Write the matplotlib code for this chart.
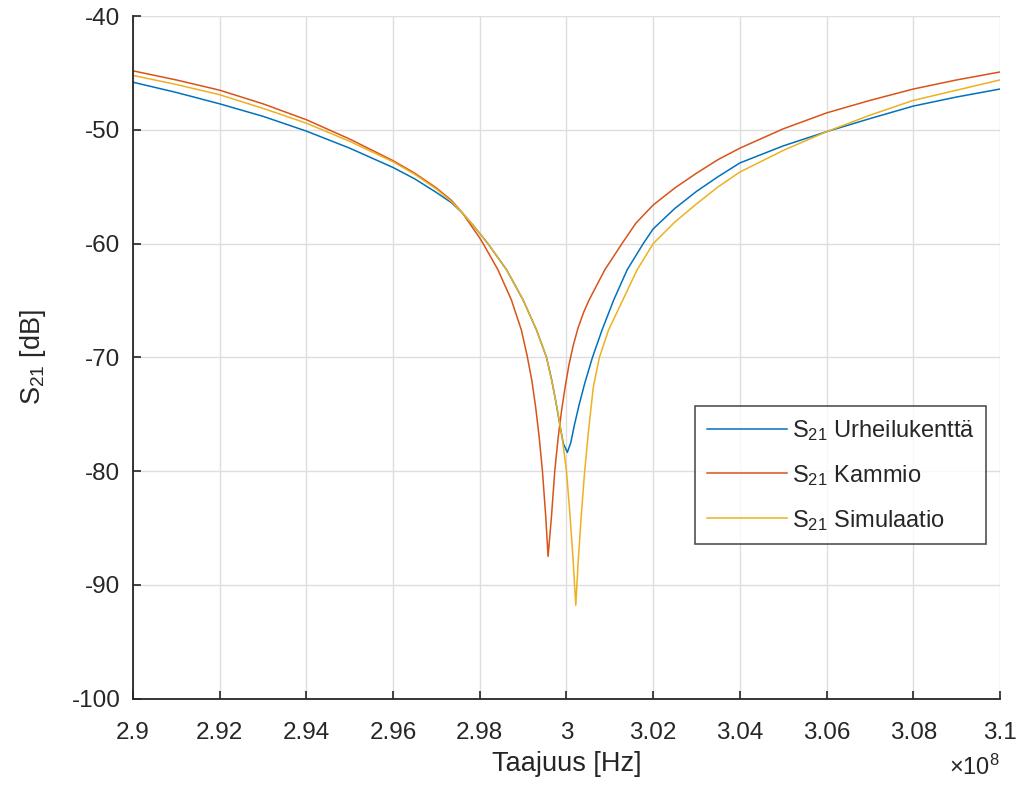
import numpy as np
import matplotlib
matplotlib.use("Agg")
import matplotlib.pyplot as plt
from matplotlib.ticker import FuncFormatter

plt.rcParams['font.family'] = ['Liberation Sans', 'DejaVu Sans']
plt.rcParams['mathtext.default'] = 'regular'
plt.rcParams['axes.unicode_minus'] = False

# Measured transmission S21 on the sports field (frequency in units of 1e8 Hz, level in dB)
f_urheilu = [2.900, 2.910, 2.920, 2.930, 2.940, 2.950, 2.960, 2.965, 2.970, 2.9735,
             2.976, 2.9785, 2.9819, 2.9862, 2.9900, 2.9931, 2.9954, 2.9966, 2.9976, 2.9985,
             2.9993, 3.0002, 3.0010, 3.0018, 3.0029, 3.0042, 3.0060, 3.0082, 3.0109, 3.0140,
             3.0177, 3.020, 3.025, 3.030, 3.035, 3.040, 3.050, 3.060, 3.070, 3.080,
             3.090, 3.100]
s21_urheilu = [-45.8, -46.7, -47.7, -48.8, -50.1, -51.6, -53.3, -54.3, -55.5, -56.4,
               -57.3, -58.4, -60.0, -62.3, -64.95, -67.6, -70.0, -72.0, -74.0, -76.0,
               -77.6, -78.35, -77.5, -76.0, -74.2, -72.3, -70.0, -67.6, -64.95, -62.3,
               -60.0, -58.7, -56.9, -55.4, -54.1, -52.9, -51.4, -50.15, -49.0, -47.9,
               -47.1, -46.4]

# Measured transmission S21 in the anechoic chamber
f_kammio = [2.900, 2.910, 2.920, 2.930, 2.940, 2.950, 2.960, 2.965, 2.970, 2.9735,
            2.976, 2.978, 2.9800, 2.9808, 2.9842, 2.9873, 2.9896, 2.9909, 2.9920, 2.9929,
            2.9937, 2.99446, 2.99522, 2.99576, 2.99654, 2.9973, 2.9981, 2.9989, 2.9997, 3.0006,
            3.0016, 3.00268, 3.0040, 3.00522, 3.00884, 3.0128, 3.016, 3.020, 3.025, 3.030,
            3.035, 3.040, 3.050, 3.060, 3.070, 3.080, 3.090, 3.100]
s21_kammio = [-44.8, -45.6, -46.5, -47.7, -49.1, -50.8, -52.7, -53.8, -55.1, -56.2,
              -57.3, -58.4, -59.5, -60.0, -62.3, -64.95, -67.6, -69.8, -72.0, -74.4,
              -77.0, -80.0, -84.0, -87.5, -84.0, -80.0, -77.0, -74.6, -72.6, -70.6,
              -68.9, -67.4, -66.0, -64.95, -62.3, -60.0, -58.2, -56.6, -55.1, -53.8,
              -52.6, -51.6, -49.9, -48.5, -47.4, -46.4, -45.6, -44.9]

# Simulated S21
f_simulaatio = [2.900, 2.910, 2.920, 2.930, 2.940, 2.950, 2.960, 2.965, 2.970, 2.9735,
                2.976, 2.9785, 2.9819, 2.9862, 2.9900, 2.9931, 2.9954, 2.9968, 2.9980, 2.9991,
                3.0000, 3.00076, 3.00150, 3.00215, 3.0027, 3.0034, 3.0042, 3.0051, 3.0062, 3.0076,
                3.0097, 3.0130, 3.0163, 3.020, 3.025, 3.030, 3.035, 3.040, 3.050, 3.060,
                3.070, 3.080, 3.090, 3.100]
s21_simulaatio = [-45.2, -46.0, -46.9, -48.1, -49.4, -51.0, -52.8, -53.9, -55.2, -56.3,
                  -57.3, -58.4, -60.0, -62.3, -64.95, -67.6, -70.0, -72.4, -74.8, -77.3,
                  -80.0, -83.6, -87.6, -91.8, -88.0, -84.0, -80.0, -76.4, -72.6, -70.0,
                  -67.6, -64.95, -62.3, -60.0, -58.1, -56.5, -55.0, -53.7, -51.8, -50.15,
                  -48.7, -47.4, -46.5, -45.6]

labels = [r'S$_{21}$ Urheilukenttä', r'S$_{21}$ Kammio', r'S$_{21}$ Simulaatio']
colors = ['#0072BD', '#D95319', '#EDB120']
x_ticks = [2.90, 2.92, 2.94, 2.96, 2.98, 3.00, 3.02, 3.04, 3.06, 3.08, 3.10]
y_ticks = [-100, -90, -80, -70, -60, -50, -40]

axis_color = '#262626'

fig = plt.figure(figsize=(10.19, 7.86), dpi=100)
ax = fig.add_axes([0.1305, 0.1113, 0.8508, 0.8680])

series = [(f_urheilu, s21_urheilu), (f_kammio, s21_kammio), (f_simulaatio, s21_simulaatio)]
for (f, s), lab, col in zip(series, labels, colors):
    ax.plot(np.asarray(f) * 1e8, s, color=col, lw=1.1, label=lab)

ax.set_xlim(2.9e8, 3.1e8)
ax.set_ylim(-100, -40)
ax.set_xticks([v * 1e8 for v in x_ticks])
ax.set_yticks(y_ticks)
ax.xaxis.set_major_formatter(FuncFormatter(lambda v, p: f"{v / 1e8:g}"))

ax.grid(True, color='#dedede', lw=1.0)
ax.set_axisbelow(True)
for side in ('top', 'right'):
    ax.spines[side].set_visible(False)
for side in ('left', 'bottom'):
    ax.spines[side].set_color(axis_color)
    ax.spines[side].set_linewidth(1.3)
ax.tick_params(direction='in', length=6, width=1.2, colors=axis_color, labelsize=17.5)
ax.tick_params(axis='x', pad=17)
ax.tick_params(axis='y', pad=9)

ax.set_xlabel('Taajuus [Hz]', fontsize=19.5, color=axis_color, labelpad=5)
ax.set_ylabel(r'S$_{21}$ [dB]', fontsize=19.5, color=axis_color, labelpad=17)
fig.text(0.981, 0.024, r'$\times$10$^{8}$', ha='right', va='center',
         fontsize=17, color=axis_color)

leg = ax.legend(loc='upper left', bbox_to_anchor=(0.648, 0.4288), fontsize=17,
                frameon=True, fancybox=False, edgecolor=axis_color,
                handlelength=3.4, handletextpad=0.2, labelspacing=0.85,
                borderpad=0.5, borderaxespad=0)
leg.get_frame().set_linewidth(1.2)
for t in leg.get_texts():
    t.set_color(axis_color)

fig.savefig('out.png', dpi=100, facecolor='white')
